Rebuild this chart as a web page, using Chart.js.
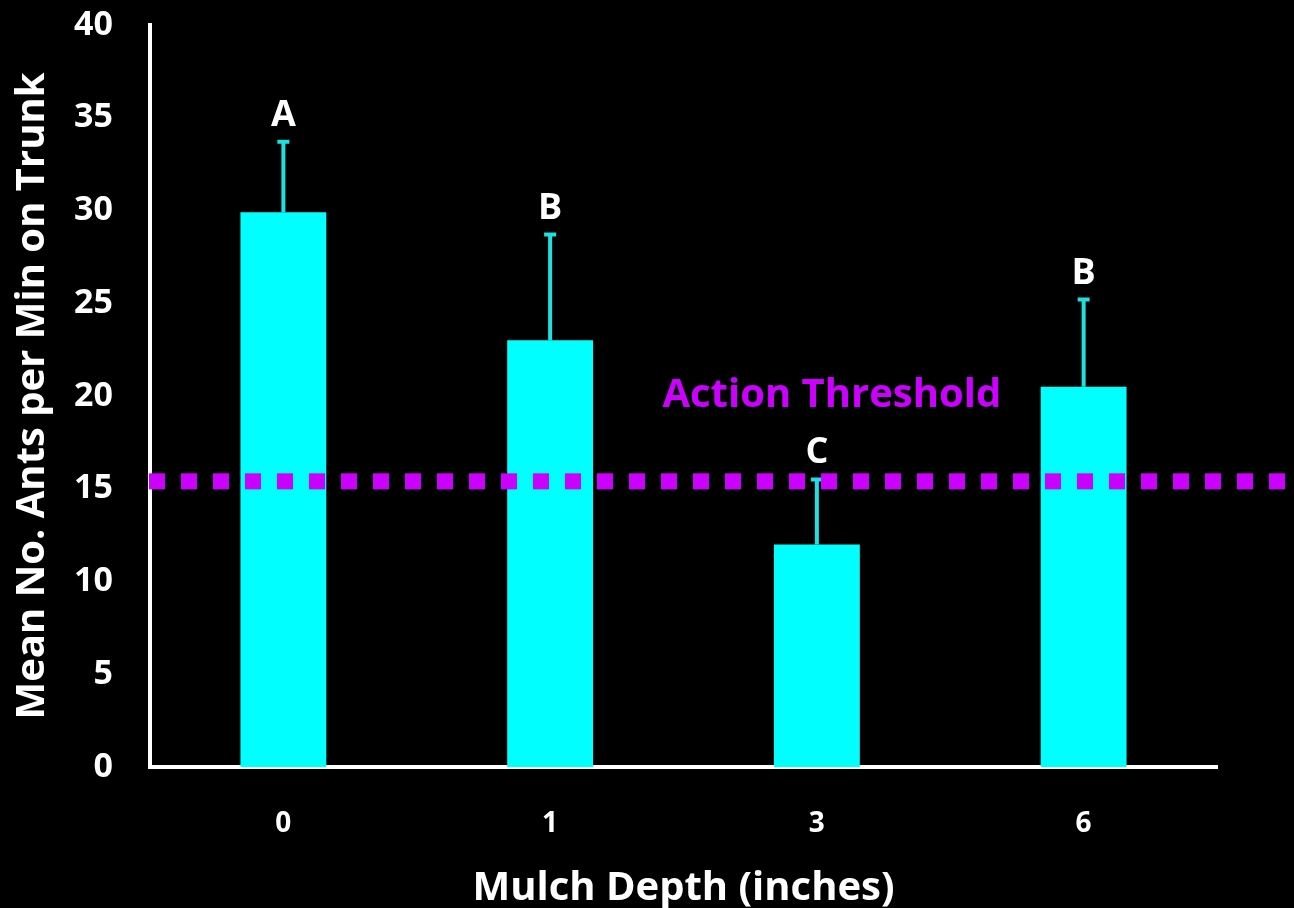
<!DOCTYPE html>
<html>
<head>
<meta charset="utf-8">
<script src="https://cdn.jsdelivr.net/npm/chart.js@4/dist/chart.umd.min.js"></script>
<style>
  html, body { margin: 0; padding: 0; background: #000; }
  #wrap { width: 1294px; height: 908px; position: relative; }
</style>
</head>
<body>
<div id="wrap"><canvas id="antsChart"></canvas></div>
<script>
// ==================== DATA ====================
const depths = ["0", "1", "3", "6"];
const meanAnts = [29.9, 23.0, 12.0, 20.5];
const errorTops = [33.7, 28.7, 15.5, 25.2];
const groupLetters = ["A", "B", "C", "B"];
const actionThreshold = 15.4;
const yTicks = [0, 5, 10, 15, 20, 25, 30, 35, 40];

const FONT = "'Open Sans', 'DejaVu Sans', sans-serif";
const CYAN = "#00ffff";
const MAGENTA = "#cc00ff";

// error bars + letters above them
const errorBars = {
    id: "errorBars",
    afterDatasetsDraw(chart) {
        const { ctx, scales: { y } } = chart;
        const meta = chart.getDatasetMeta(0);
        ctx.save();
        meta.data.forEach((bar, i) => {
            const x = bar.x;
            const yTop = y.getPixelForValue(errorTops[i]);
            ctx.strokeStyle = "#1fe0e0";
            ctx.lineWidth = 4;
            ctx.beginPath();
            ctx.moveTo(x, bar.y);
            ctx.lineTo(x, yTop);
            ctx.moveTo(x - 6, yTop);
            ctx.lineTo(x + 6, yTop);
            ctx.stroke();

            ctx.fillStyle = "#ffffff";
            ctx.font = "bold 36px " + FONT;
            ctx.textAlign = "center";
            ctx.textBaseline = "alphabetic";
            ctx.fillText(groupLetters[i], x, yTop - 16);
        });
        ctx.restore();
    }
};

// dotted threshold line, runs past the end of the x axis
const thresholdLine = {
    id: "thresholdLine",
    afterDraw(chart) {
        const { ctx, chartArea, scales: { x, y } } = chart;
        const yPx = y.getPixelForValue(actionThreshold);
        ctx.save();
        ctx.fillStyle = MAGENTA;
        // square dots, 16px with 16px gaps
        for (let px = chartArea.left - 1; px + 16 <= chart.width - 6; px += 32) {
            ctx.fillRect(px, yPx - 8, 16, 16);
        }

        ctx.font = "bold 40px " + FONT;
        ctx.textAlign = "center";
        ctx.textBaseline = "middle";
        ctx.fillText("Action Threshold", x.getPixelForValue(2) + 15, y.getPixelForValue(20));
        ctx.restore();
    }
};

new Chart(document.getElementById("antsChart"), {
    type: "bar",
    data: {
        labels: depths,
        datasets: [{
            data: meanAnts,
            backgroundColor: CYAN,
            borderWidth: 0,
            categoryPercentage: 1,
            barPercentage: 0.322
        }]
    },
    options: {
        responsive: true,
        maintainAspectRatio: false,
        animation: false,
        layout: { padding: { top: 25, right: 77, bottom: 0, left: 0 } },
        plugins: {
            legend: { display: false },
            tooltip: { enabled: false }
        },
        scales: {
            x: {
                grid: { display: false, drawTicks: false },
                border: { display: true, color: "#ffffff", width: 4 },
                ticks: {
                    color: "#ffffff",
                    padding: 40,
                    font: { family: FONT, size: 28, weight: "bold" }
                },
                title: {
                    display: true,
                    text: "Mulch Depth (inches)",
                    color: "#ffffff",
                    padding: { top: 0, bottom: -5 },
                    font: { family: FONT, size: 40, weight: "bold" }
                },
                afterFit(scale) {
                    scale.height = 141;
                    scale.paddingLeft = 0;
                    scale.paddingRight = 0;
                }
            },
            y: {
                min: 0,
                max: 40,
                afterBuildTicks(scale) { scale.ticks = yTicks.map(v => ({ value: v })); },
                grid: { display: false, drawTicks: false },
                border: { display: true, color: "#ffffff", width: 4 },
                ticks: {
                    color: "#ffffff",
                    padding: 37,
                    font: { family: FONT, size: 34, weight: "bold" }
                },
                title: {
                    display: true,
                    text: "Mean No. Ants per Min on Trunk",
                    color: "#ffffff",
                    padding: { top: 9, bottom: 0 },
                    font: { family: FONT, size: 40, weight: "bold" }
                },
                afterFit(scale) {
                    scale.width = 150;
                    scale.paddingTop = 0;
                    scale.paddingBottom = 0;
                }
            }
        }
    },
    plugins: [errorBars, thresholdLine]
});
</script>
</body>
</html>
